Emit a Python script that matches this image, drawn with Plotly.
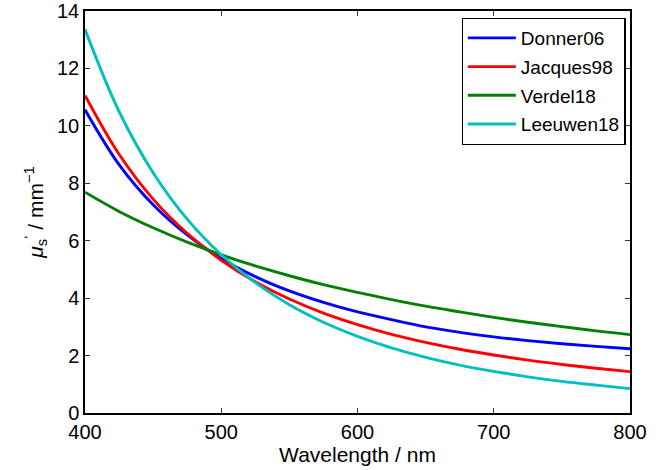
import plotly.graph_objects as go

wavelength = [400, 425, 450, 475, 500, 525, 550, 575, 600, 625, 650, 675, 700, 725, 750, 775, 800]

donner06 = [10.56, 8.65, 7.25, 6.20, 5.38, 4.75, 4.25, 3.85, 3.52, 3.25, 3.00, 2.81, 2.65, 2.52, 2.41, 2.32, 2.24]
jacques98 = [11.06, 9.01, 7.45, 6.26, 5.32, 4.57, 3.97, 3.48, 3.08, 2.74, 2.46, 2.22, 2.02, 1.84, 1.69, 1.56, 1.44]
verdel18 = [7.69, 7.02, 6.45, 5.95, 5.51, 5.12, 4.78, 4.47, 4.20, 3.95, 3.72, 3.52, 3.33, 3.16, 3.01, 2.86, 2.73]
leeuwen18 = [13.36, 10.50, 8.37, 6.75, 5.51, 4.54, 3.77, 3.16, 2.67, 2.27, 1.94, 1.67, 1.45, 1.26, 1.10, 0.97, 0.85]

series_names = ["Donner06", "Jacques98", "Verdel18", "Leeuwen18"]
series_values = [donner06, jacques98, verdel18, leeuwen18]
series_colors = ["#0000ff", "#ff0000", "#008000", "#00bfbf"]

x_ticks = [400, 500, 600, 700, 800]
y_ticks = [0, 2, 4, 6, 8, 10, 12, 14]

FONT = "Liberation Sans, Arial, Helvetica, sans-serif"

fig = go.Figure()
for i, (name, vals, col) in enumerate(zip(series_names, series_values, series_colors)):
    fig.add_trace(go.Scatter(
        x=wavelength, y=vals, name=name, mode="lines",
        line=dict(color=col, width=2.9, shape="spline", smoothing=1.0),
        legendgroup=f"g{i}",
    ))

axis_common = dict(
    showgrid=False, zeroline=False, showline=True, linecolor="black", linewidth=1.5,
    mirror="ticks", ticks="inside", ticklen=5, tickwidth=1, tickcolor="#333",
    tickfont=dict(family=FONT, size=20, color="black"),
    ticklabeloverflow="allow", automargin=False,
)

fig.update_layout(
    width=661, height=470,
    margin=dict(l=85, r=31, t=11, b=57, autoexpand=False),
    paper_bgcolor="white", plot_bgcolor="white",
    font=dict(family=FONT, size=19, color="black"),
    showlegend=True,
    legend=dict(
        x=0.992, y=0.983, xanchor="right", yanchor="top",
        bgcolor="white", bordercolor="black", borderwidth=1.2,
        font=dict(family=FONT, size=19, color="black"),
        tracegroupgap=1, traceorder="grouped", itemwidth=48,
    ),
    xaxis=dict(
        range=[400, 800], tickvals=x_ticks, ticktext=[str(v) for v in x_ticks],
        title=dict(text="Wavelength / nm", font=dict(family=FONT, size=21), standoff=4),
        **axis_common,
    ),
    yaxis=dict(
        range=[0, 14], tickvals=y_ticks, ticktext=[str(v) for v in y_ticks],
        title=dict(text="<i>μ</i><sub>s</sub><sup>‘</sup> / mm<sup>−1</sup>",
                   font=dict(family=FONT, size=21), standoff=8),
        **axis_common,
    ),
)

fig.write_html("out.html", config={"displayModeBar": False},
               post_script="document.body.style.margin='0';")
